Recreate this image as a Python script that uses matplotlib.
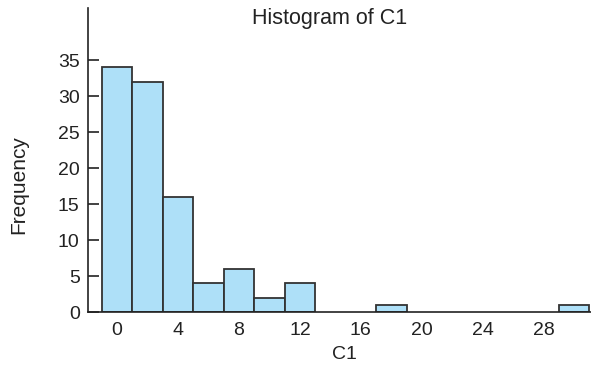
import numpy as np
import matplotlib
matplotlib.use("Agg")
import matplotlib.pyplot as plt

# bin centres (width 2) and counts
bin_centers = [0, 2, 4, 6, 8, 10, 12, 14, 16, 18, 20, 22, 24, 26, 28, 30]
counts = [34, 32, 16, 4, 6, 2, 4, 0, 0, 1, 0, 0, 0, 0, 0, 1]
x_ticks = [0, 4, 8, 12, 16, 20, 24, 28]
y_ticks = [0, 5, 10, 15, 20, 25, 30, 35]

plt.rcParams['font.family'] = ['Liberation Sans', 'DejaVu Sans']
ink = '#222222'

fig = plt.figure(figsize=(5.91, 3.71), dpi=100)
ax = fig.add_axes([0.149, 0.159, 0.851, 0.819])

centers = np.array(bin_centers)
heights = np.array(counts)
keep = heights > 0
ax.bar(centers[keep], heights[keep], width=2, color='#aee0f8',
       edgecolor='#333333', linewidth=1.3)

ax.set_xlim(-1.9, 31.1)
ax.set_ylim(0, 42.2)
ax.set_xticks(x_ticks)
ax.set_yticks(y_ticks)

for side in ['top', 'right']:
    ax.spines[side].set_visible(False)
for side in ['left', 'bottom']:
    ax.spines[side].set_linewidth(1.2)
    ax.spines[side].set_color(ink)

ax.tick_params(axis='x', length=0, pad=7, labelsize=14, colors=ink)
ax.tick_params(axis='y', direction='in', length=8, width=1.2, pad=6,
               labelsize=14, colors=ink)

ax.set_xlabel('C1', fontsize=14, color=ink)
ax.xaxis.set_label_coords(0.51, -0.112)
ax.set_ylabel('Frequency', fontsize=15, color=ink)
ax.yaxis.set_label_coords(-0.119, 0.42)

ax.text(0.481, 0.965, 'Histogram of C1', transform=ax.transAxes,
        ha='center', va='center', fontsize=15.5, color=ink)

fig.savefig('out.png', dpi=100)
